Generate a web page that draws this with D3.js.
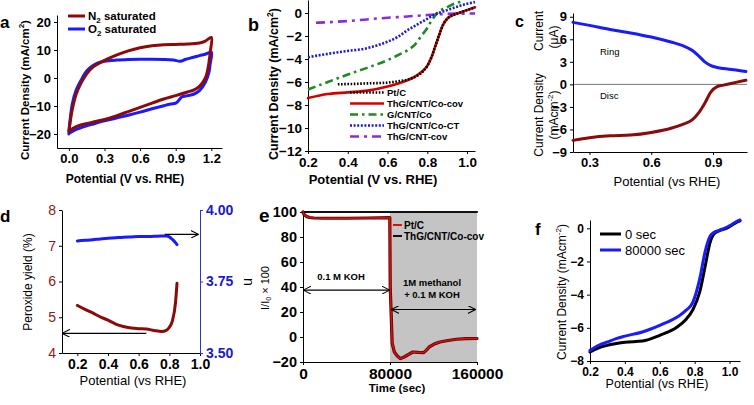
<!DOCTYPE html>
<html><head><meta charset="utf-8">
<script src="https://cdn.jsdelivr.net/npm/d3@7"></script>
<style>body{margin:0;background:#fff}svg{font-family:"Liberation Sans",Arial,sans-serif}</style>
</head><body>
<script>
// ---------- DATA ----------
// Panel a: CV loops (potential V, current density mA/cm2)
const aN2V = [0,0.01,0.03,0.06,0.1,0.15,0.2,0.3,0.4,0.5,0.6,0.7,0.8,0.9,1.0,1.1,1.15,1.2,1.19,1.17,1.15,1.1,1.05,1.0,0.9,0.8,0.7,0.6,0.5,0.4,0.3,0.2,0.1,0.05,0.0];
const aN2J = [-19,-16,-11,-6,-2,1.5,3.8,6.3,8.2,9.7,10.8,11.5,11.9,12,12.1,12.5,13.2,14.5,9,3,0,-3,-4.3,-5,-6.3,-7.5,-9,-10.5,-12,-13.5,-14.8,-15.8,-16.8,-17.6,-19];
const aO2V = [0,0.01,0.03,0.06,0.1,0.15,0.2,0.25,0.3,0.4,0.5,0.6,0.7,0.8,0.88,0.94,0.98,1.05,1.1,1.15,1.2,1.19,1.18,1.15,1.1,1.05,1.0,0.95,0.93,0.9,0.86,0.8,0.7,0.6,0.5,0.4,0.3,0.2,0.1,0.05,0.0];
const aO2J = [-20,-15,-9,-4.5,-1,2.5,4.4,5.5,6.0,6.4,6.6,6.7,6.7,6.6,6.4,6.0,6.6,7.4,8.0,8.5,9.2,5,2,-1.5,-4.5,-5.8,-6.3,-6.8,-7.8,-9,-9.3,-9.9,-11,-12.2,-13.3,-14.3,-15.3,-16.5,-17.8,-18.6,-19.8];
const aXTicks = [0,0.3,0.6,0.9,1.2];
const aYTicks = [-20,-10,0,10,20];

// Panel b: LSV curves
const bPtV = [0.35,0.4,0.5,0.6,0.65,0.7,0.75,0.78,0.8,0.82,0.84,0.86,0.88,0.9,0.92,0.95,1.0,1.04];
const bPtJ = [-6.2,-6.18,-6.12,-6.05,-5.95,-5.8,-5.45,-5.05,-4.6,-3.9,-2.9,-1.9,-1.0,-0.5,-0.25,-0.05,0.25,0.5];
const bCovV = [0.2,0.3,0.4,0.5,0.6,0.65,0.7,0.75,0.78,0.8,0.82,0.84,0.86,0.88,0.9,0.92,0.95,1.0,1.04];
const bCovJ = [-7.4,-7.05,-6.9,-6.75,-6.4,-6.15,-5.85,-5.4,-5.0,-4.6,-3.9,-2.9,-1.9,-1.0,-0.5,-0.25,-0.05,0.25,0.5];
const bGV = [0.2,0.3,0.4,0.5,0.6,0.66,0.7,0.74,0.77,0.8,0.82,0.85,0.9,0.95,0.98];
const bGJ = [-6.65,-6.0,-5.35,-4.75,-4.1,-3.6,-3.25,-2.7,-2.0,-1.3,-0.7,0,0.5,0.9,1.0];
const bCTV = [0.2,0.3,0.4,0.5,0.55,0.6,0.65,0.7,0.75,0.8,0.83,0.85,0.9,0.95,1.0,1.04];
const bCTJ = [-3.85,-3.55,-3.3,-3.05,-2.8,-2.5,-2.1,-1.5,-1.0,-0.5,-0.2,-0.05,0.25,0.55,0.8,0.95];
const bCNTV = [0.24,0.4,0.55,0.7,0.8,0.9,1.0,1.04];
const bCNTJ = [-0.85,-0.7,-0.48,-0.3,-0.18,-0.08,-0.05,-0.05];
const bNames = ["Pt/C","ThG/CNT/Co-cov","G/CNT/Co","ThG/CNT/Co-CT","ThG/CNT-cov"];
const bXTicks = [0.2,0.4,0.6,0.8,1.0];
const bYTicks = [0,-2,-4,-6,-8,-10,-12];

// Panel c: RRDE ring / disc
const cV = [0.22,0.3,0.4,0.5,0.6,0.7,0.75,0.8,0.83,0.86,0.89,0.92,0.95,1.0,1.06];
const cRing = [8.25,7.85,7.3,6.85,6.3,5.6,5.2,4.5,3.8,3.0,2.5,2.25,2.1,1.95,1.7];
const cDisc = [-7.45,-7.1,-6.85,-6.75,-6.4,-5.8,-5.35,-4.7,-3.8,-2.5,-1.0,-0.3,-0.1,0.2,0.55];
const cXTicks = [0.3,0.6,0.9];
const cYTicks = [-9,-6,-3,0,3,6,9];

// Panel d: peroxide yield and electron number
const dV = [0.2,0.25,0.3,0.35,0.4,0.45,0.5,0.55,0.6,0.65,0.7,0.75,0.78,0.8,0.82,0.84,0.85];
const dPerox = [5.33,5.22,5.12,5.01,4.92,4.81,4.74,4.7,4.68,4.67,4.63,4.6,4.63,4.72,4.9,5.4,5.95];
const dN = [3.892,3.894,3.896,3.899,3.901,3.903,3.905,3.906,3.907,3.907,3.908,3.909,3.909,3.906,3.897,3.886,3.879];
const dXTicks = [0.2,0.4,0.6,0.8,1.0];
const dYTicksL = [4,5,6,7,8];
const dYTicksR = [3.5,3.75,4.0];

// Panel e: chronoamperometry
const eT = [0,1000,3000,6000,10000,20000,40000,60000,79800,80200,82000,84000,86500,89500,93000,97000,101000,106000,111000,113500,116000,121000,126000,132000,141000,150000,160000];
const ePt = [100,98,96.5,95.6,95.2,95,95,95.2,95.5,40,-5,-12,-15,-17.3,-16,-14,-12,-12.3,-12.5,-10.5,-8,-5.5,-4,-3,-1.8,-1.3,-1.2];
const eCovT = [0,40000,80000,120000,160000];
const eCov = [100,100,100,100,100];
const eXTicks = [0,80000,160000];
const eYTicks = [-20,0,20,40,60,80,100];

// Panel f: stability LSV
const fV = [0.2,0.25,0.3,0.35,0.4,0.5,0.6,0.7,0.75,0.79,0.83,0.86,0.89,0.91,0.94,0.97,1.0,1.03,1.06];
const f0 = [-7.46,-7.2,-7.05,-6.95,-6.87,-6.8,-6.45,-5.95,-5.5,-4.9,-3.8,-2.3,-0.8,-0.35,-0.15,-0.05,0.1,0.3,0.45];
const f8 = [-7.36,-7.05,-6.85,-6.65,-6.5,-6.25,-5.85,-5.35,-4.95,-4.45,-3.0,-1.4,-0.45,-0.25,-0.12,0.0,0.15,0.35,0.5];
const fNames = ["0 sec","80000 sec"];
const fXTicks = [0.2,0.4,0.6,0.8,1.0];
const fYTicks = [0,-2,-4,-6,-8];

// ---------- DRAW ----------
const svg = d3.select("body").append("svg").attr("width",754).attr("height",405);
const defs = svg.append("defs");
function marker(id, orient){
  defs.append("marker").attr("id",id).attr("viewBox","0 0 10 10").attr("refX",9).attr("refY",5)
    .attr("markerWidth",8).attr("markerHeight",8).attr("orient",orient).attr("markerUnits","userSpaceOnUse")
    .append("path").attr("d","M0,0 L10,5 L0,10").attr("fill","none").attr("stroke","#000").attr("stroke-width",1.3);
}
marker("arr","auto"); marker("arrS","auto-start-reverse");

const zip = (xs, ys) => xs.map((x,i)=>[x,ys[i]]);
function styleAxis(g, size, weight, color){
  g.select(".domain").attr("stroke","#000").attr("stroke-width",1);
  g.selectAll(".tick line").attr("stroke","#000");
  g.selectAll(".tick text").attr("font-size",size).attr("font-weight",weight||"bold")
    .attr("fill",color||"#000").attr("font-family","Liberation Sans, Arial, sans-serif");
}
function txt(x,y,s,size,opt){
  opt=opt||{};
  const t = svg.append("text").attr("x",x).attr("y",y).attr("font-size",size)
    .attr("font-weight",opt.bold?"bold":"normal").attr("text-anchor",opt.anchor||"start")
    .attr("fill",opt.fill||"#000");
  if(opt.rot) t.attr("transform",`rotate(${opt.rot},${x},${y})`);
  if(opt.html) t.html(s); else t.text(s);
  return t;
}
function plotLine(g, data, x, y, color, w, dash, curve){
  const p = g.append("path").datum(data).attr("fill","none").attr("stroke",color).attr("stroke-width",w)
    .attr("stroke-linejoin","round").attr("stroke-linecap", dash ? "butt":"round")
    .attr("d", d3.line().x(d=>x(d[0])).y(d=>y(d[1])).curve(curve||d3.curveMonotoneX));
  if(dash) p.attr("stroke-dasharray",dash);
  return p;
}

// ===== Panel a =====
{
  const x = d3.scaleLinear().domain([-0.1,1.29]).range([57,222]);
  const y = d3.scaleLinear().domain([-25,22.5]).range([148,15]);
  const g = svg.append("g");
  g.append("g").attr("transform","translate(0,148)")
    .call(d3.axisBottom(x).tickValues(aXTicks).tickFormat(d3.format(".1f")).tickSize(3).tickSizeOuter(0))
    .call(a=>styleAxis(a,"13px"));
  g.append("g").attr("transform","translate(57,0)")
    .call(d3.axisLeft(y).tickValues(aYTicks).tickSize(3).tickSizeOuter(0))
    .call(a=>styleAxis(a,"13px"));
  plotLine(g, zip(aO2V,aO2J), x, y, "#1a1aff", 3, null, d3.curveCatmullRom);
  plotLine(g, zip(aN2V,aN2J), x, y, "#8b0a0a", 3, null, d3.curveCatmullRom);
  // legend
  g.append("line").attr("x1",68).attr("x2",85).attr("y1",16).attr("y2",16).attr("stroke","#8b0a0a").attr("stroke-width",3);
  g.append("line").attr("x1",68).attr("x2",85).attr("y1",29).attr("y2",29).attr("stroke","#1a1aff").attr("stroke-width",3);
  txt(88,20,'N<tspan font-size="8" dy="3">2</tspan><tspan dy="-3"> saturated</tspan>',"11.5px",{bold:true,html:true});
  txt(88,33,'O<tspan font-size="8" dy="3">2</tspan><tspan dy="-3"> saturated</tspan>',"11.5px",{bold:true,html:true});
  txt(125,183,"Potential (V vs. RHE)","12px",{bold:true,anchor:"middle"});
  txt(29,90,'Current Density (mA/cm<tspan font-size="8" dy="-5">2</tspan><tspan dy="5">)</tspan>',"11.5px",{bold:true,anchor:"middle",rot:-90,html:true});
  txt(0,28,"a","17px",{bold:true});
}

// ===== Panel b =====
{
  const x = d3.scaleLinear().domain([0.2,1.04]).range([308,475]);
  const y = d3.scaleLinear().domain([-12,1.13]).range([151,0]);
  const g = svg.append("g");
  g.append("g").attr("transform","translate(0,151)")
    .call(d3.axisBottom(x).tickValues(bXTicks).tickFormat(d3.format(".1f")).tickSize(3).tickSizeOuter(0))
    .call(a=>styleAxis(a,"13.5px"));
  g.append("g").attr("transform","translate(308,0)")
    .call(d3.axisLeft(y).tickValues(bYTicks).tickSize(3).tickSizeOuter(0))
    .call(a=>styleAxis(a,"13.5px"));
  const colors = ["#000","#d40000","#1f8a1f","#1c1ccc","#8a2be2"];
  const dashes = ["1.6,1.6",null,"8,4,2.5,4","2,1.6","9,5,3,5"];
  const sets = [zip(bPtV,bPtJ),zip(bCovV,bCovJ),zip(bGV,bGJ),zip(bCTV,bCTJ),zip(bCNTV,bCNTJ)];
  [4,2,3,1,0].forEach(i=>plotLine(g, sets[i], x, y, colors[i], 2.6, dashes[i]));
  const ly = [92.5,103.5,114.5,125.5,136.5];
  bNames.forEach((n,i)=>{
    g.append("line").attr("x1",350).attr("x2",384).attr("y1",ly[i]).attr("y2",ly[i])
      .attr("stroke",colors[i]).attr("stroke-width",2.6).attr("stroke-dasharray",dashes[i]);
    txt(387,ly[i]+3.5,n,"9.5px",{bold:true});
  });
  txt(373,184,"Potential (V vs. RHE)","13px",{bold:true,anchor:"middle"});
  txt(278,84,'Current Density (mA/cm<tspan font-size="8.5" dy="-5">2</tspan><tspan dy="5">)</tspan>',"12.5px",{bold:true,anchor:"middle",rot:-90,html:true});
  txt(248,31,"b","18px",{bold:true});
}

// ===== Panel c =====
{
  const x = d3.scaleLinear().domain([0.22,1.065]).range([573,747]);
  const y = d3.scaleLinear().domain([-9,9.5]).range([152,13]);
  const g = svg.append("g");
  g.append("line").attr("x1",573).attr("x2",747).attr("y1",y(0)).attr("y2",y(0)).attr("stroke","#777").attr("stroke-width",1);
  g.append("g").attr("transform","translate(0,152)")
    .call(d3.axisBottom(x).tickValues(cXTicks).tickFormat(d3.format(".1f")).tickSize(3).tickSizeOuter(0))
    .call(a=>styleAxis(a,"13px"));
  g.append("g").attr("transform","translate(573,0)")
    .call(d3.axisLeft(y).tickValues(cYTicks).tickSize(3).tickSizeOuter(0))
    .call(a=>styleAxis(a,"13px"));
  plotLine(g, zip(cV,cRing), x, y, "#1a1aff", 3);
  plotLine(g, zip(cV,cDisc), x, y, "#8b0a0a", 3);
  txt(600,55,"Ring","9.5px");
  txt(600,99,"Disc","9.5px");
  txt(667,186,"Potential (vs RHE)","13px",{anchor:"middle"});
  txt(543,31,"Current","12px",{anchor:"middle",rot:-90});
  txt(558,37,"(μA)","12px",{anchor:"middle",rot:-90});
  txt(543,115,"Current Density","12px",{anchor:"middle",rot:-90});
  txt(558,115,'(mAcm<tspan font-size="8" dy="-5">-2</tspan><tspan dy="5">)</tspan>',"12px",{anchor:"middle",rot:-90,html:true});
  txt(515,27,"c","16px",{bold:true});
}

// ===== Panel d =====
{
  const x = d3.scaleLinear().domain([0.1,1.0]).range([62,200]);
  const yL = d3.scaleLinear().domain([4,8]).range([353,210]);
  const yR = d3.scaleLinear().domain([3.5,4.0]).range([353,210]);
  const g = svg.append("g");
  g.append("g").attr("transform","translate(0,353)")
    .call(d3.axisBottom(x).tickValues(dXTicks).tickFormat(d3.format(".1f")).tickSize(3).tickSizeOuter(0))
    .call(a=>styleAxis(a,"14px"));
  g.append("g").attr("transform","translate(62,0)")
    .call(d3.axisLeft(yL).tickValues(dYTicksL).tickFormat(d3.format("d")).tickSize(3).tickSizeOuter(0))
    .call(a=>styleAxis(a,"14px","normal","#8b1a1a"));
  g.append("g").attr("transform","translate(200,0)")
    .call(d3.axisRight(yR).tickValues(dYTicksR).tickFormat(d3.format(".2f")).tickSize(3).tickSizeOuter(0))
    .call(a=>{styleAxis(a,"14px","bold","#1a1acc"); a.select(".domain").attr("stroke","#3333cc"); a.selectAll(".tick line").attr("stroke","#3333cc");});
  plotLine(g, zip(dV,dN), x, yR, "#1a1aff", 3);
  plotLine(g, zip(dV,dPerox), x, yL, "#8b0a0a", 3);
  g.append("line").attr("x1",x(0.77)).attr("x2",x(0.985)).attr("y1",yR(3.915)).attr("y2",yR(3.915))
    .attr("stroke","#000").attr("stroke-width",1.3).attr("marker-end","url(#arr)");
  g.append("line").attr("x1",x(0.65)).attr("x2",x(0.105)).attr("y1",yL(4.55)).attr("y2",yL(4.55))
    .attr("stroke","#000").attr("stroke-width",1.3).attr("marker-end","url(#arr)");
  txt(133,385,"Potential (vs RHE)","13px",{anchor:"middle"});
  txt(32,282,"Peroxide yield (%)","12px",{anchor:"middle",rot:-90});
  txt(244,282,"n","14px",{anchor:"middle",rot:90});
  txt(0,222,"d","17px",{bold:true});
}

// ===== Panel e =====
{
  const x = d3.scaleLinear().domain([0,160000]).range([303,477]);
  const y = d3.scaleLinear().domain([-20,100]).range([362,212]);
  const g = svg.append("g");
  g.append("rect").attr("x",x(80000)).attr("y",y(100)).attr("width",x(160000)-x(80000)).attr("height",y(-20)-y(100)).attr("fill","#c4c4c4");
  g.append("g").attr("transform","translate(0,362)")
    .call(d3.axisBottom(x).tickValues(eXTicks).tickFormat(d3.format("d")).tickSize(3).tickSizeOuter(0))
    .call(a=>styleAxis(a,"15.5px"));
  g.append("g").attr("transform","translate(303,0)")
    .call(d3.axisLeft(y).tickValues(eYTicks).tickSize(3).tickSizeOuter(0))
    .call(a=>styleAxis(a,"14.5px"));
  plotLine(g, zip(eCovT,eCov), x, y, "#111", 2.2);
  plotLine(g, zip(eT,ePt), x, y, "#5a0000", 3.2, null, d3.curveLinear);
  plotLine(g, zip(eT,ePt), x, y, "#d41010", 1.6, null, d3.curveLinear);
  // legend
  g.append("line").attr("x1",393).attr("x2",402).attr("y1",225).attr("y2",225).attr("stroke","#d41010").attr("stroke-width",2);
  g.append("line").attr("x1",393).attr("x2",402).attr("y1",236).attr("y2",236).attr("stroke","#111").attr("stroke-width",2);
  txt(404,229,"Pt/C","10px",{bold:true});
  txt(404,240,"ThG/CNT/Co-cov","10px",{bold:true});
  // annotations
  g.append("line").attr("x1",x(0)+1).attr("x2",x(79000)).attr("y1",y(37.5)).attr("y2",y(37.5))
    .attr("stroke","#000").attr("stroke-width",1.2).attr("marker-end","url(#arr)").attr("marker-start","url(#arrS)");
  g.append("line").attr("x1",x(82000)).attr("x2",x(158000)).attr("y1",y(22)).attr("y2",y(22))
    .attr("stroke","#000").attr("stroke-width",1.2).attr("marker-end","url(#arr)").attr("marker-start","url(#arrS)");
  txt(341,280,"0.1 M KOH","9.5px",{bold:true,anchor:"middle"});
  txt(432,286,"1M methanol","9.5px",{bold:true,anchor:"middle"});
  txt(432,298,"+ 0.1 M KOH","9.5px",{bold:true,anchor:"middle"});
  txt(397,392,"Time (sec)","11.5px",{bold:true,anchor:"middle"});
  txt(269,288,'I/I<tspan font-size="7" dy="2">0</tspan><tspan dy="-2"> × 100</tspan>',"11px",{anchor:"middle",rot:-90,html:true});
  txt(259,222,"e","19px",{bold:true});
}

// ===== Panel f =====
{
  const x = d3.scaleLinear().domain([0.2,1.06]).range([590,740]);
  const y = d3.scaleLinear().domain([-8,0.5]).range([361,220]);
  const g = svg.append("g");
  g.append("g").attr("transform","translate(0,361)")
    .call(d3.axisBottom(x).tickValues(fXTicks).tickFormat(d3.format(".1f")).tickSize(3).tickSizeOuter(0))
    .call(a=>styleAxis(a,"12px"));
  g.append("g").attr("transform","translate(590,0)")
    .call(d3.axisLeft(y).tickValues(fYTicks).tickSize(3).tickSizeOuter(0))
    .call(a=>styleAxis(a,"12px"));
  plotLine(g, zip(fV,f0), x, y, "#000", 3);
  plotLine(g, zip(fV,f8), x, y, "#1a1aff", 3);
  const cols = ["#000","#1a1aff"], ly=[234,250];
  fNames.forEach((n,i)=>{
    g.append("line").attr("x1",600).attr("x2",621).attr("y1",ly[i]).attr("y2",ly[i]).attr("stroke",cols[i]).attr("stroke-width",3);
    txt(625,ly[i]+4.5,n,"13px");
  });
  txt(657,388,"Potential (vs RHE)","12.5px",{anchor:"middle"});
  txt(566,292,'Current Density (mAcm<tspan font-size="8" dy="-5">-2</tspan><tspan dy="5">)</tspan>',"12px",{anchor:"middle",rot:-90,html:true});
  txt(535,235,"f","17px",{bold:true});
}
</script>
</body></html>
